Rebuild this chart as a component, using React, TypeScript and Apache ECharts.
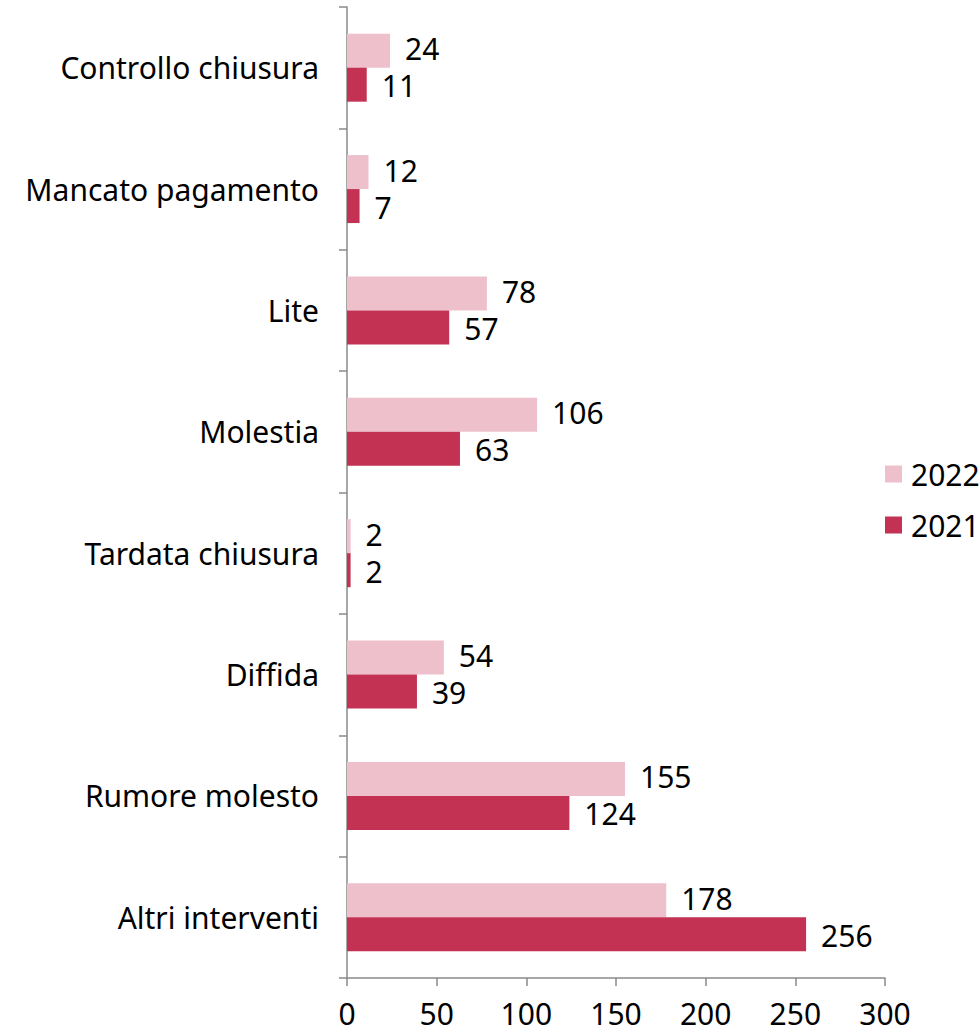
import React, { useEffect, useRef } from "react";
import * as echarts from "echarts";

const categories = [
  "Controllo chiusura",
  "Mancato pagamento",
  "Lite",
  "Molestia",
  "Tardata chiusura",
  "Diffida",
  "Rumore molesto",
  "Altri interventi",
];
const values2022 = [24, 12, 78, 106, 2, 54, 155, 178];
const values2021 = [11, 7, 57, 63, 2, 39, 124, 256];
const xTicks = { min: 0, max: 300, interval: 50 };

const FONT = "Noto Sans";
const FS = 30;

export default function App() {
  const ref = useRef<HTMLDivElement>(null);
  useEffect(() => {
    if (!ref.current) return;
    const chart = echarts.init(ref.current, undefined, { renderer: "svg" });
    const axisLine = { show: true, lineStyle: { color: "#8a8a8a", width: 1.5 } };
    const label = {
      show: true,
      position: "right" as const,
      distance: 15,
      color: "#000",
      fontFamily: FONT,
      fontSize: FS,
      lineHeight: 30,
    };
    chart.setOption({
      animation: false,
      textStyle: { fontFamily: FONT },
      grid: { left: 347, right: 95, top: 7, bottom: 54, containLabel: false },
      legend: {
        orient: "vertical",
        left: 880,
        top: 454,
        itemWidth: 17,
        itemHeight: 17,
        itemGap: 21,
        icon: "rect",
        textStyle: { fontFamily: FONT, fontSize: FS, color: "#000", padding: [0, 0, 0, 4] },
        data: ["2022", "2021"],
      },
      xAxis: {
        type: "value",
        min: xTicks.min,
        max: xTicks.max,
        interval: xTicks.interval,
        axisLine,
        axisTick: { show: true, length: 8, lineStyle: { color: "#8a8a8a", width: 1.5 } },
        splitLine: { show: false },
        axisLabel: {
          color: "#000",
          fontFamily: FONT,
          fontSize: FS,
          lineHeight: 30,
          margin: 20,
        },
      },
      yAxis: {
        type: "category",
        inverse: true,
        data: categories,
        axisLine,
        axisTick: { show: true, length: 8, lineStyle: { color: "#8a8a8a", width: 1.5 } },
        axisLabel: { color: "#000", fontFamily: FONT, fontSize: FS, margin: 28 },
      },
      series: [
        {
          name: "2022",
          type: "bar",
          data: values2022,
          barWidth: 34,
          barGap: "0%",
          itemStyle: { color: "#EDC0CB" },
          label: { ...label, offset: [0, -2] },
        },
        {
          name: "2021",
          type: "bar",
          data: values2021,
          barWidth: 34,
          barGap: "0%",
          itemStyle: { color: "#C33253" },
          label: { ...label, offset: [0, 1] },
        },
      ],
    });
    return () => chart.dispose();
  }, []);
  return (
    <div
      ref={ref}
      style={{ position: "absolute", left: 0, top: 0, width: 980, height: 1032 }}
    />
  );
}
